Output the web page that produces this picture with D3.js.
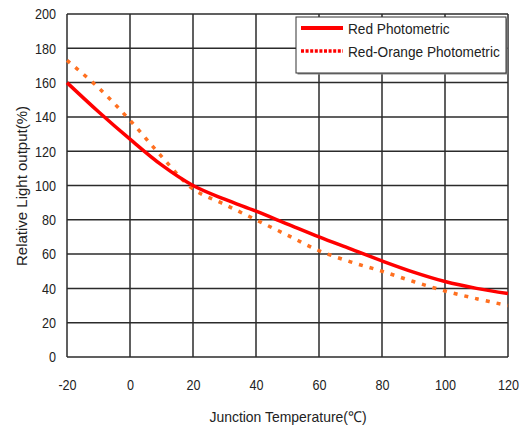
<!DOCTYPE html>
<html>
<head>
<meta charset="utf-8">
<script src="https://cdn.jsdelivr.net/npm/d3@7"></script>
<style>
  body { margin: 0; background: #fff; }
  text { font-family: "Liberation Sans", Arial, sans-serif; fill: #222; }
</style>
</head>
<body>
<div class="viz"></div>
<script>
// data
var temps = [-20, -10, 0, 10, 20, 30, 40, 50, 60, 70, 80, 90, 100, 110, 120];
var redValues = [160, 143, 127, 112, 100, 92, 85, 77.5, 70, 63, 56, 49.5, 44, 40, 37];
var redOrangeValues = [173, 157, 138, 117, 98, 89, 80, 71, 62, 55.5, 50, 44, 38.5, 34, 30];
var xTicks = [-20, 0, 20, 40, 60, 80, 100, 120];
var yTicks = [0, 20, 40, 60, 80, 100, 120, 140, 160, 180, 200];
var seriesNames = ["Red Photometric", "Red-Orange Photometric"];

var W = 525, H = 432;
var margin = { top: 14, right: 17, bottom: 75, left: 67 },
  width = W - margin.left - margin.right,
  height = H - margin.top - margin.bottom;

var svg = d3.select(".viz").append("svg")
  .attr("width", W)
  .attr("height", H);

// squeeze text horizontally, the reference uses a narrow face
function narrow(sel, f) {
  sel.each(function () {
    var w = this.getComputedTextLength();
    d3.select(this)
      .attr("textLength", w * f)
      .attr("lengthAdjust", "spacingAndGlyphs");
  });
}

var x = d3.scaleLinear().domain([-20, 120]).range([0, width]);
var y = d3.scaleLinear().domain([0, 200]).range([height, 0]);

var g = svg.append("g")
  .attr("transform", "translate(" + margin.left + "," + margin.top + ")");

// grid
g.append("g")
  .selectAll("line")
  .data(yTicks)
  .enter()
  .append("line")
  .attr("x1", 0).attr("x2", width)
  .attr("y1", function (d) { return y(d); })
  .attr("y2", function (d) { return y(d); })
  .attr("stroke", "#2b2b2b")
  .attr("stroke-width", 1.5);

g.append("g")
  .selectAll("line")
  .data(xTicks)
  .enter()
  .append("line")
  .attr("y1", 0).attr("y2", height)
  .attr("x1", function (d) { return x(d); })
  .attr("x2", function (d) { return x(d); })
  .attr("stroke", "#2b2b2b")
  .attr("stroke-width", 1.5);

// axes (labels only)
var fmt = function (d) { return String(d); };
var xAxis = g.append("g")
  .attr("transform", "translate(0," + height + ")")
  .call(d3.axisBottom(x).tickValues(xTicks).tickFormat(fmt).tickSize(0).tickPadding(22));
var yAxis = g.append("g")
  .call(d3.axisLeft(y).tickValues(yTicks).tickFormat(fmt).tickSize(0).tickPadding(11));
[xAxis, yAxis].forEach(function (a) {
  a.select(".domain").remove();
  a.selectAll("text")
    .style("font-size", "15px")
    .style("font-family", '"Liberation Sans", Arial, sans-serif')
    .attr("fill", "#222")
    .call(narrow, 0.84);
});

var line = d3.line()
  .x(function (d, i) { return x(temps[i]); })
  .y(function (d) { return y(d); })
  .curve(d3.curveCatmullRom);

g.append("path")
  .datum(redOrangeValues)
  .attr("d", line)
  .attr("fill", "none")
  .attr("stroke", "#ff7020")
  .attr("stroke-width", 3.5)
  .attr("stroke-dasharray", "4,7");

g.append("path")
  .datum(redValues)
  .attr("d", line)
  .attr("fill", "none")
  .attr("stroke", "#ff0000")
  .attr("stroke-width", 3.5);

// legend
var lg = svg.append("g").attr("transform", "translate(296,17)");
lg.append("rect")
  .attr("x", 1.5).attr("y", 1.5)
  .attr("width", 210).attr("height", 56)
  .attr("fill", "#888");
lg.append("rect")
  .attr("width", 210).attr("height", 56)
  .attr("fill", "#fff")
  .attr("stroke", "#333")
  .attr("stroke-width", 1);

var items = lg.selectAll(".item")
  .data(seriesNames)
  .enter()
  .append("g")
  .attr("transform", function (d, i) { return "translate(0," + (11 + i * 23) + ")"; });
items.append("line")
  .attr("x1", 5).attr("x2", 47)
  .attr("y1", 0).attr("y2", 0)
  .attr("stroke", "#ff0000")
  .attr("stroke-width", function (d, i) { return i ? 3.5 : 4; })
  .attr("stroke-dasharray", function (d, i) { return i ? "3,1.6" : null; });
items.append("text")
  .attr("x", 52)
  .attr("y", 5.5)
  .style("font-size", "15px")
  .text(function (d) { return d; })
  .call(narrow, 0.91);

// axis titles
svg.append("text")
  .attr("x", 288)
  .attr("y", 422)
  .attr("text-anchor", "middle")
  .style("font-size", "15px")
  .text("Junction Temperature(\u2103)")
  .call(narrow, 0.93);

svg.append("text")
  .attr("transform", "translate(27,186) rotate(-90)")
  .attr("text-anchor", "middle")
  .style("font-size", "15px")
  .text("Relative Light output(%)");
</script>
</body>
</html>
